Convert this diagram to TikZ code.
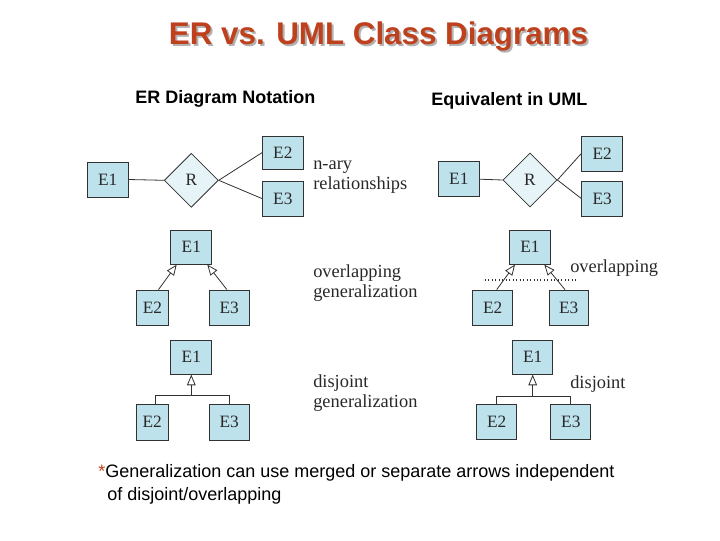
\documentclass[tikz,border=0pt]{standalone}
\usepackage{fontspec}
\setsansfont{Liberation Sans}
\setmainfont{Liberation Serif}
\usetikzlibrary{shapes.geometric,arrows.meta,calc}
\definecolor{titlecol}{RGB}{190,64,28}
\definecolor{boxfill}{RGB}{190,226,236}
\definecolor{diafill}{RGB}{230,243,247}
\definecolor{linecol}{RGB}{50,50,50}
\definecolor{txtcol}{RGB}{40,40,40}
\tikzset{
  ent/.style 2 args={draw=linecol, line width=0.6pt, fill=boxfill, inner sep=0pt,
    minimum width=#1*0.75pt, minimum height=#2*0.75pt, text=txtcol,
    font=\fontsize{13}{15}\selectfont},
  rel/.style={diamond, aspect=1, draw=linecol, line width=0.6pt, fill=diafill, inner sep=0pt,
    minimum width=54*0.75pt, minimum height=54*0.75pt, text=txtcol,
    font=\fontsize{13}{15}\selectfont},
  conn/.style={draw=linecol, line width=0.6pt},
  gen/.style={conn, -{Triangle[open, length=8pt, width=6.5pt, fill=white]}},
  lbl/.style={anchor=west, align=left, inner sep=0pt, text=txtcol,
    font=\fontsize{13.8}{15}\selectfont},
  head/.style={anchor=west, inner sep=0pt, font=\sffamily\bfseries\fontsize{13.5}{15}\selectfont},
  foot/.style={anchor=west, inner sep=0pt, font=\sffamily\fontsize{13.5}{15}\selectfont}
}
\begin{document}
\begin{tikzpicture}[x=0.75pt, y=-0.75pt]
\useasboundingbox (0,0) rectangle (720,540);
% title
\node[text=black!30, font=\sffamily\bfseries\fontsize{23.5}{28}\selectfont] (tshadow) at (380.5,38.5) {ER vs. UML Class Diagrams};
\node[text=titlecol, font=\sffamily\bfseries\fontsize{23.5}{28}\selectfont] (title) at (378.5,36.5) {ER vs. UML Class Diagrams};
% headings
\node[head] (h1) at (135,99) {ER Diagram Notation};
\node[head] (h2) at (431,101) {Equivalent in UML};

% ===== ER: n-ary =====
\node[ent={41}{35}] (a1) at (107.7,179.5) {E1};
\node[rel] (aR) at (191.3,180.3) {R};
\node[ent={41}{33}] (a2) at (282.8,152.7) {E2};
\node[ent={41}{35}] (a3) at (282.8,198.5) {E3};
\draw[conn] (a1.east) -- (aR.west);
\draw[conn] (aR.east) -- (a2.west);
\draw[conn] (aR.east) -- (a3.west);
\node[lbl] (la) at (313,177.5) {n-ary\\relationships};

% ===== UML: n-ary =====
\node[ent={41}{35}] (b1) at (458.8,179.2) {E1};
\node[rel] (bR) at (530,180) {R};
\node[ent={41}{35}] (b2) at (602.2,153.5) {E2};
\node[ent={41}{35}] (b3) at (602.2,198.5) {E3};
\draw[conn] (b1.east) -- (bR.west);
\draw[conn] (bR.east) -- (b2.west);
\draw[conn] (bR.east) -- (b3.west);

% ===== ER: overlapping =====
\node[ent={41}{34}] (c1) at (191.3,247.2) {E1};
\node[ent={32}{35}] (c2) at (152.5,307.5) {E2};
\node[ent={40}{35}] (c3) at (229.2,307.5) {E3};
\draw[gen] ($(c2.north)+(6,0)$) -- ($(c1.south)+(-14.6,0)$);
\draw[gen] ($(c3.north)+(-2.3,0)$) -- ($(c1.south)+(16,0)$);
\node[lbl] (lc) at (313,283.5) {overlapping\\generalization};

% ===== UML: overlapping =====
\node[ent={41}{34}] (d1) at (530,247.2) {E1};
\node[ent={40}{35}] (d2) at (492.7,307.5) {E2};
\node[ent={39}{35}] (d3) at (568.7,307.5) {E3};
\draw[gen] ($(d2.north)+(4,0)$) -- ($(d1.south)+(-15,0)$);
\draw[gen] ($(d3.north)+(-3.7,0)$) -- ($(d1.south)+(14.3,0)$);
\coordinate (dl) at (485,280);
\coordinate (dr) at (576.7,280);
\draw[conn, dotted, line width=0.8pt] (dl) -- (dr);
\node[lbl] (ld) at (570,268) {overlapping};

% ===== ER: disjoint =====
\node[ent={41}{34}] (e1) at (191.3,357.2) {E1};
\node[ent={32}{36}] (e2) at (152.2,422.2) {E2};
\node[ent={40}{36}] (e3) at (229.2,422.2) {E3};
\coordinate (ej) at (191.3,395.7);
\draw[conn] ($(e2.north)+(3.5,0)$) |- (ej) -| (e3.north);
\draw[gen] (ej) -- (e1.south);
\node[lbl] (le) at (313,393) {disjoint\\generalization};

% ===== UML: disjoint =====
\node[ent={40}{34}] (f1) at (532.7,357.2) {E1};
\node[ent={40}{35}] (f2) at (496.7,421.7) {E2};
\node[ent={40}{35}] (f3) at (570.8,421.7) {E3};
\coordinate (fj) at (532.7,396.7);
\draw[conn] (f2.north) |- (fj) -| (f3.north);
\draw[gen] (fj) -- (f1.south);
\node[lbl] (lf) at (570,384) {disjoint};

% footnote
\node[foot] (n1) at (98,473) {\textcolor{titlecol}{*}Generalization can use merged or separate arrows independent};
\node[foot] (n2) at (107,496) {of disjoint/overlapping};
\end{tikzpicture}
\end{document}
